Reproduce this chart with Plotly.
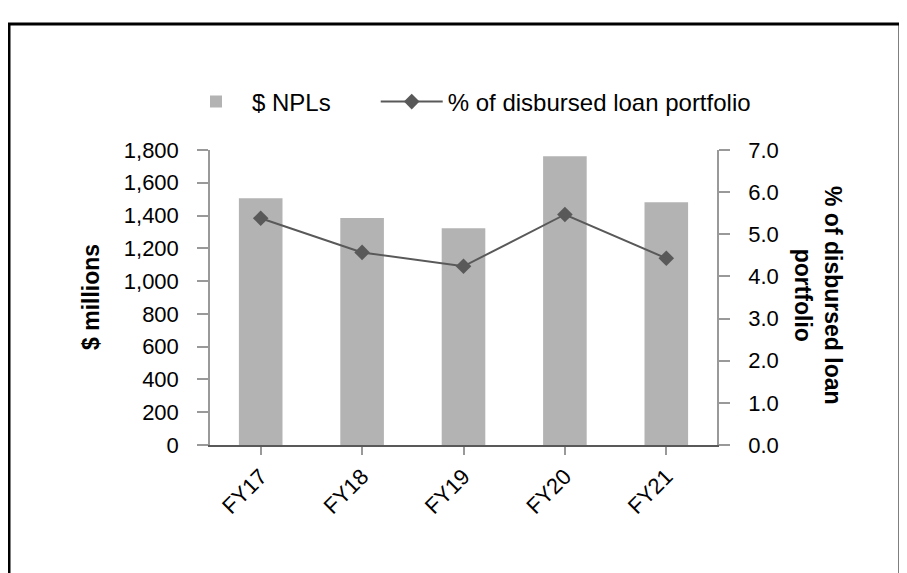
import plotly.graph_objects as go

categories = ["FY17", "FY18", "FY19", "FY20", "FY21"]
npl_values = [1505, 1385, 1322, 1762, 1481]
pct_values = [5.38, 4.57, 4.24, 5.47, 4.43]

FONT = "Liberation Sans, Arial, sans-serif"
OFF = 8  # browser default body margin
W, H = 907 - OFF, 573 - OFF
# target screen positions of plot area
X0, X1, Y0, Y1 = 210, 717, 150, 445
ML, MR, MT, MB = X0 - OFF, W - (X1 - OFF), Y0 - OFF, H - (Y1 - OFF)
PW = W - ML - MR
PH = H - MT - MB


def px_x(x):
    return (x - X0) / PW


def px_y(y):
    return (Y1 - y) / PH


NB = "\u00a0"

fig = go.Figure()
fig.add_trace(go.Bar(
    x=categories, y=npl_values, name="$ NPLs" + NB * 6,
    marker=dict(color="#b3b3b3", line=dict(width=0)),
    width=0.43,
))
fig.add_trace(go.Scatter(
    x=categories, y=pct_values, name="% of disbursed loan portfolio",
    yaxis="y2", mode="lines+markers",
    line=dict(color="#595959", width=2),
    marker=dict(symbol="diamond", size=12, color="#595959"),
))

fig.update_layout(
    width=W, height=H,
    margin=dict(l=ML, r=MR, t=MT, b=MB, pad=0),
    paper_bgcolor="white", plot_bgcolor="white",
    font=dict(family=FONT, size=22, color="black"),
    showlegend=True,
    legend=dict(orientation="h", x=px_x(180), xanchor="left",
                y=px_y(102), yanchor="middle", itemwidth=62,
                font=dict(size=24), bgcolor="rgba(0,0,0,0)"),
    xaxis=dict(
        showline=True, linecolor="#595959", linewidth=2,
        ticks="outside", ticklen=8, tickcolor="#999999", tickwidth=1.5,
        tickangle=-45, showgrid=False, zeroline=False,
    ),
    yaxis=dict(
        range=[0, 1800], dtick=200, tickformat=",",
        showline=True, linecolor="#999999", linewidth=1.5,
        ticks="outside", ticklen=11, tickcolor="#999999", tickwidth=1.5,
        showgrid=False, zeroline=False, ticklabelstandoff=14,
    ),
    yaxis2=dict(
        range=[0, 7], dtick=1, tickformat=".1f", overlaying="y", side="right",
        showline=True, linecolor="#999999", linewidth=1.5,
        ticks="outside", ticklen=11, tickcolor="#999999", tickwidth=1.5,
        showgrid=False, zeroline=False, ticklabelstandoff=14,
    ),
    bargap=0.57,
)

fig.add_annotation(
    text="<b>$ millions</b>", textangle=-90, showarrow=False,
    xref="paper", yref="paper", x=px_x(91), y=px_y(297),
    xanchor="center", yanchor="middle", font=dict(size=23),
)
fig.add_annotation(
    text="<b>% of disbursed loan<br>portfolio</b>", textangle=90, showarrow=False,
    xref="paper", yref="paper", x=px_x(818), y=px_y(295),
    xanchor="center", yanchor="middle", font=dict(size=23),
)

fig.add_shape(
    type="rect", xref="paper", yref="paper",
    x0=px_x(9), x1=px_x(900), y0=px_y(620), y1=px_y(24),
    line=dict(color="black", width=3), fillcolor="rgba(0,0,0,0)", layer="below",
)

fig.write_html("out.html")
